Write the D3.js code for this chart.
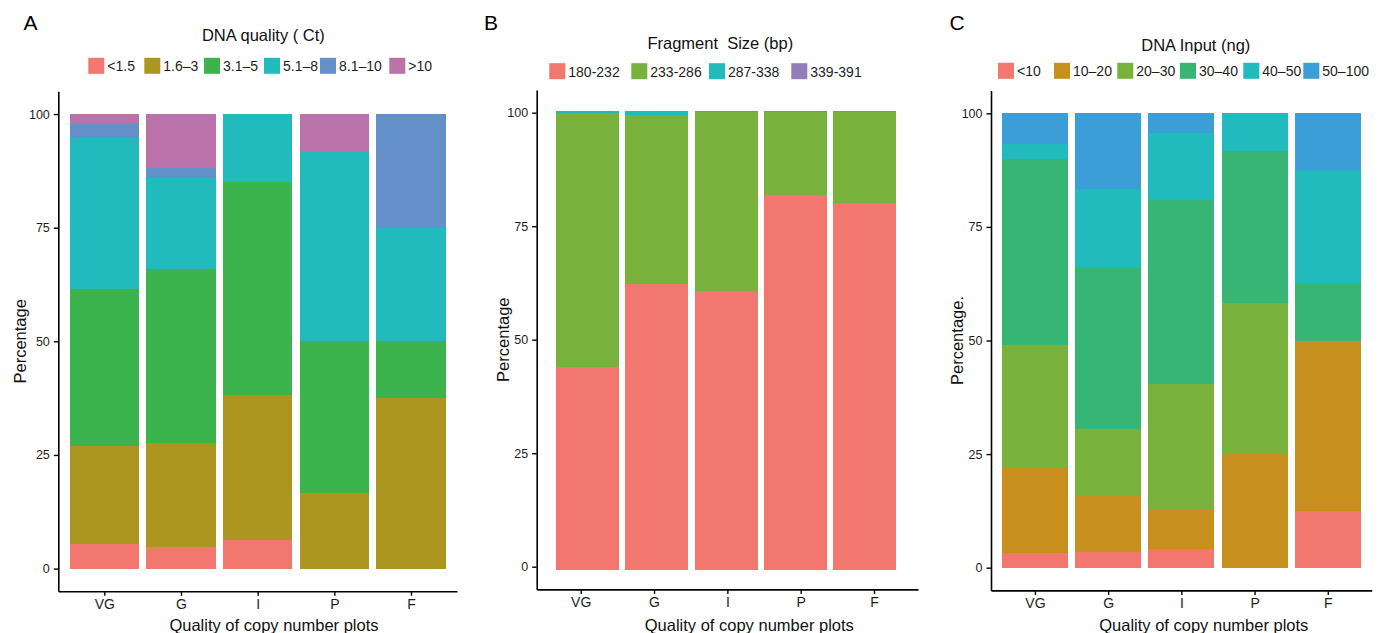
<!DOCTYPE html>
<html>
<head>
<meta charset="utf-8">
<script src="https://cdn.jsdelivr.net/npm/d3@7"></script>
<style>
  body { margin: 0; background: #fff; }
  svg { display: block; font-family: "Liberation Sans", Arial, Helvetica, sans-serif; }
</style>
</head>
<body>
<svg id="chart" width="1386" height="633"></svg>
<script>
// ---- data -------------------------------------------------------------
const categories = ["VG", "G", "I", "P", "F"];
const yTicks = [0, 25, 50, 75, 100];

// Panel A: DNA quality (Ct); rows follow qualityLevels, columns follow categories
const qualityLevels = ["<1.5", "1.6–3", "3.1–5", "5.1–8", "8.1–10", ">10"];
const qualityColors = ["#F1776F", "#AD9620", "#3BB44E", "#21BBBE", "#6490C9", "#BB72AB"];
const qualityShares = [
  [5.5, 4.7, 6.3, 0, 0],
  [21.5, 22.9, 31.9, 16.7, 37.5],
  [34.5, 38.3, 46.9, 33.3, 12.5],
  [33.3, 20.1, 14.9, 41.7, 25],
  [3.1, 2.2, 0, 0, 25],
  [2.1, 11.8, 0, 8.3, 0]
];

// Panel B: fragment size (bp)
const fragmentLevels = ["180-232", "233-286", "287-338", "339-391"];
const fragmentColors = ["#F1776F", "#79B13D", "#21BBBE", "#927CB9"];
const fragmentShares = [
  [44.2, 62.4, 60.8, 81.7, 80.0],
  [55.4, 36.7, 38.9, 18.0, 19.7],
  [0.4, 0.9, 0, 0, 0],
  [0, 0, 0.3, 0.3, 0.3]
];

// Panel C: DNA input (ng)
const inputLevels = ["<10", "10–20", "20–30", "30–40", "40–50", "50–100"];
const inputColors = ["#F1776F", "#C68F1E", "#79B13D", "#37B574", "#21BBBE", "#3B9ED6"];
const inputShares = [
  [3.2, 3.5, 4.1, 0, 12.5],
  [19.0, 12.3, 8.7, 25, 37.5],
  [26.8, 14.7, 27.7, 33.3, 0],
  [40.9, 35.5, 40.5, 33.4, 12.5],
  [3.4, 17.3, 14.7, 8.3, 25],
  [6.7, 16.7, 4.3, 0, 12.5]
];

// ---- drawing ----------------------------------------------------------
const svg = d3.select("#chart");
const xTitle = "Quality of copy number plots";

function drawPanel(p) {
  const g = svg.append("g");

  // axis scales (category positions 1..5 with 0.6 padding each side)
  const x = d3.scaleLinear().domain([0.4, 5.6]).range([p.left, p.right]);
  const y = d3.scaleLinear().domain([-5, 105]).range([p.bottom, p.top]);
  // bar scales (may be offset slightly from the axis frame)
  const bx = p.barX ? d3.scaleLinear().domain([1, 5]).range(p.barX) : x;
  const by = p.barY ? d3.scaleLinear().domain([0, 100]).range(p.barY) : y;
  const half = p.barHalf;

  const rows = categories.map((c, j) => {
    const r = { cat: c, pos: j + 1 };
    p.levels.forEach((lv, i) => { r[lv] = p.shares[i][j]; });
    return r;
  });
  const stacked = d3.stack().keys(p.levels)(rows);
  const color = d3.scaleOrdinal().domain(p.levels).range(p.colors);

  g.append("g").selectAll("g")
    .data(stacked)
    .join("g")
    .attr("fill", d => color(d.key))
    .selectAll("rect")
    .data(d => d.filter(s => s[1] - s[0] > 0))
    .join("rect")
    .attr("shape-rendering", "crispEdges")
    .attr("x", d => bx(d.data.pos) - half)
    .attr("width", half * 2)
    .attr("y", d => by(d[1]))
    .attr("height", d => by(d[0]) - by(d[1]));

  // axes
  const yAxis = d3.axisLeft(y).tickValues(yTicks).tickSize(4.5).tickSizeOuter(0).tickPadding(4);
  const xAxis = d3.axisBottom(x).tickValues([1, 2, 3, 4, 5])
    .tickFormat(v => categories[v - 1]).tickSize(4.5).tickSizeOuter(0).tickPadding(3);

  const ya = g.append("g").attr("transform", `translate(${p.left},0)`).call(yAxis);
  const xa = g.append("g").attr("transform", `translate(0,${p.bottom})`).call(xAxis);
  [ya, xa].forEach(a => {
    a.select(".domain").attr("stroke", "#000").attr("stroke-width", 1.6);
    a.selectAll(".tick line").attr("stroke", "#000").attr("stroke-width", 1.4);
    a.selectAll("text").attr("fill", "#1e1e1e").attr("font-family", null);
  });
  ya.selectAll("text").attr("font-size", "12.5px");
  xa.selectAll("text").attr("font-size", "14px");

  // axis titles
  g.append("text")
    .attr("transform", `translate(${p.yTitleX},${(p.top + p.bottom) / 2}) rotate(-90)`)
    .attr("text-anchor", "middle")
    .attr("font-size", "16.5px")
    .attr("fill", "#111")
    .text(p.yTitle);
  g.append("text")
    .attr("x", p.xTitleX).attr("y", 631)
    .attr("text-anchor", "middle")
    .attr("font-size", "16.5px")
    .attr("fill", "#111")
    .text(xTitle);

  // panel letter
  g.append("text")
    .attr("x", p.letterX).attr("y", 30)
    .attr("font-size", "21px")
    .attr("fill", "#000")
    .text(p.letter);

  // legend
  g.append("text")
    .attr("x", p.legendTitleX).attr("y", p.legendTitleY)
    .attr("text-anchor", "middle")
    .attr("font-size", "16.5px")
    .attr("fill", "#111")
    .attr("xml:space", "preserve")
    .style("white-space", "pre")
    .text(p.legendTitle);
  const items = g.append("g").selectAll("g")
    .data(p.levels)
    .join("g")
    .attr("transform", (d, i) => `translate(${p.keyX[i]},${p.keyY})`);
  items.append("rect")
    .attr("width", 16).attr("height", 16)
    .attr("fill", d => color(d));
  items.append("text")
    .attr("x", 19).attr("y", 13.6)
    .attr("font-size", "14px")
    .attr("fill", "#1e1e1e")
    .text(d => d);
}

drawPanel({
  letter: "A", letterX: 23.5,
  levels: qualityLevels, colors: qualityColors, shares: qualityShares,
  left: 58.3, right: 457, top: 91.3, bottom: 591.3, barHalf: 34.8,
  yTitle: "Percentage", yTitleX: 25.5, xTitleX: 274,
  legendTitle: "DNA quality ( Ct)", legendTitleX: 263.4, legendTitleY: 40.7,
  keyX: [88.3, 144.3, 204, 264, 320, 389.3], keyY: 57.8
});

drawPanel({
  letter: "B", letterX: 484,
  levels: fragmentLevels, colors: fragmentColors, shares: fragmentShares,
  left: 536.7, right: 918, top: 90, bottom: 589.4, barHalf: 31.5,
  barX: [587.5, 864.5], barY: [570, 111],
  yTitle: "Percentage", yTitleX: 509, xTitleX: 749.3,
  legendTitle: "Fragment  Size (bp)", legendTitleX: 720.3, legendTitleY: 48.7,
  keyX: [549.3, 631.3, 709, 791.3], keyY: 63.2
});

drawPanel({
  letter: "C", letterX: 949.5,
  levels: inputLevels, colors: inputColors, shares: inputShares,
  left: 991, right: 1371.7, top: 90.6, bottom: 590.4, barHalf: 33,
  yTitle: "Percentage.", yTitleX: 962.5, xTitleX: 1203.8,
  legendTitle: "DNA Input (ng)", legendTitleX: 1195.8, legendTitleY: 50.6,
  keyX: [998, 1054, 1117.3, 1180, 1243.3, 1303.3], keyY: 62.8
});
</script>
</body>
</html>
